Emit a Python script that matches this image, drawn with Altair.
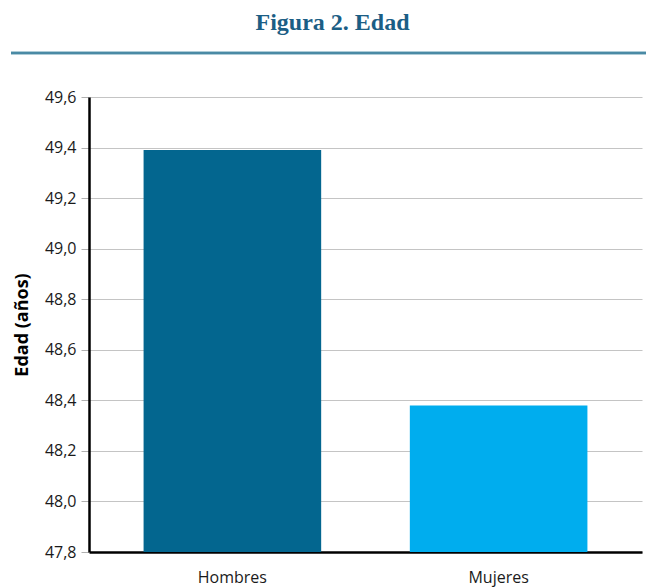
import altair as alt
import pandas as pd

# Mean age by sex
sexo = ["Hombres", "Mujeres"]
edad = [49.39, 48.38]
colores = ["#03668F", "#00ADEE"]
y_ticks = [47.8, 48.0, 48.2, 48.4, 48.6, 48.8, 49.0, 49.2, 49.4, 49.6]

df = pd.DataFrame({"sexo": sexo, "edad": edad})

FONT = "Open Sans"

bars = alt.Chart(df).mark_bar().encode(
    x=alt.X(
        "sexo:N",
        sort=sexo,
        scale=alt.Scale(paddingInner=0.333, paddingOuter=0.205),
        axis=alt.Axis(
            title=None, labelAngle=0, ticks=False, labelPadding=17,
            labelFont=FONT, labelFontSize=16, labelColor="#1a1a1a",
            domainColor="#000000", domainWidth=2.5, grid=False,
        ),
    ),
    y=alt.Y(
        "edad:Q",
        scale=alt.Scale(domain=[47.8, 49.6], zero=False, clamp=True),
        axis=alt.Axis(
            title="Edad (años)", titleFont=FONT, titleFontSize=18,
            titleFontWeight="bold", titleColor="#000000", titlePadding=13,
            values=y_ticks,
            labelExpr="replace(format(datum.value, '.1f'), '.', ',')",
            labelFont=FONT, labelFontSize=16, labelColor="#1a1a1a",
            labelPadding=5, tickColor="#b0b0b0", tickSize=8,
            domainColor="#000000", domainWidth=2.5,
            grid=True, gridColor="#c4c4c4", gridWidth=1.2,
        ),
    ),
    color=alt.Color("sexo:N", scale=alt.Scale(domain=sexo, range=colores), legend=None),
)

# Rule under the title
rule = alt.Chart(df).mark_rule(color="#4a8aa5", strokeWidth=2.5).encode(
    x=alt.value(-78), x2=alt.value(557), y=alt.value(-44)
)

chart = (
    alt.layer(rule, bars)
    .properties(
        width=553,
        height=455,
        padding={"left": 89, "top": 97, "right": 4, "bottom": 35},
        autosize=alt.AutoSizeParams(type="none"),
        title=alt.TitleParams(
            "Figura 2. Edad", font="Liberation Serif", fontSize=24,
            fontWeight="bold", color="#1b5e85", anchor="middle",
            dx=-33, offset=17,
        ),
    )
    .configure_view(stroke=None)
)

chart.save("out.html", embed_options={"renderer": "svg", "actions": False})
